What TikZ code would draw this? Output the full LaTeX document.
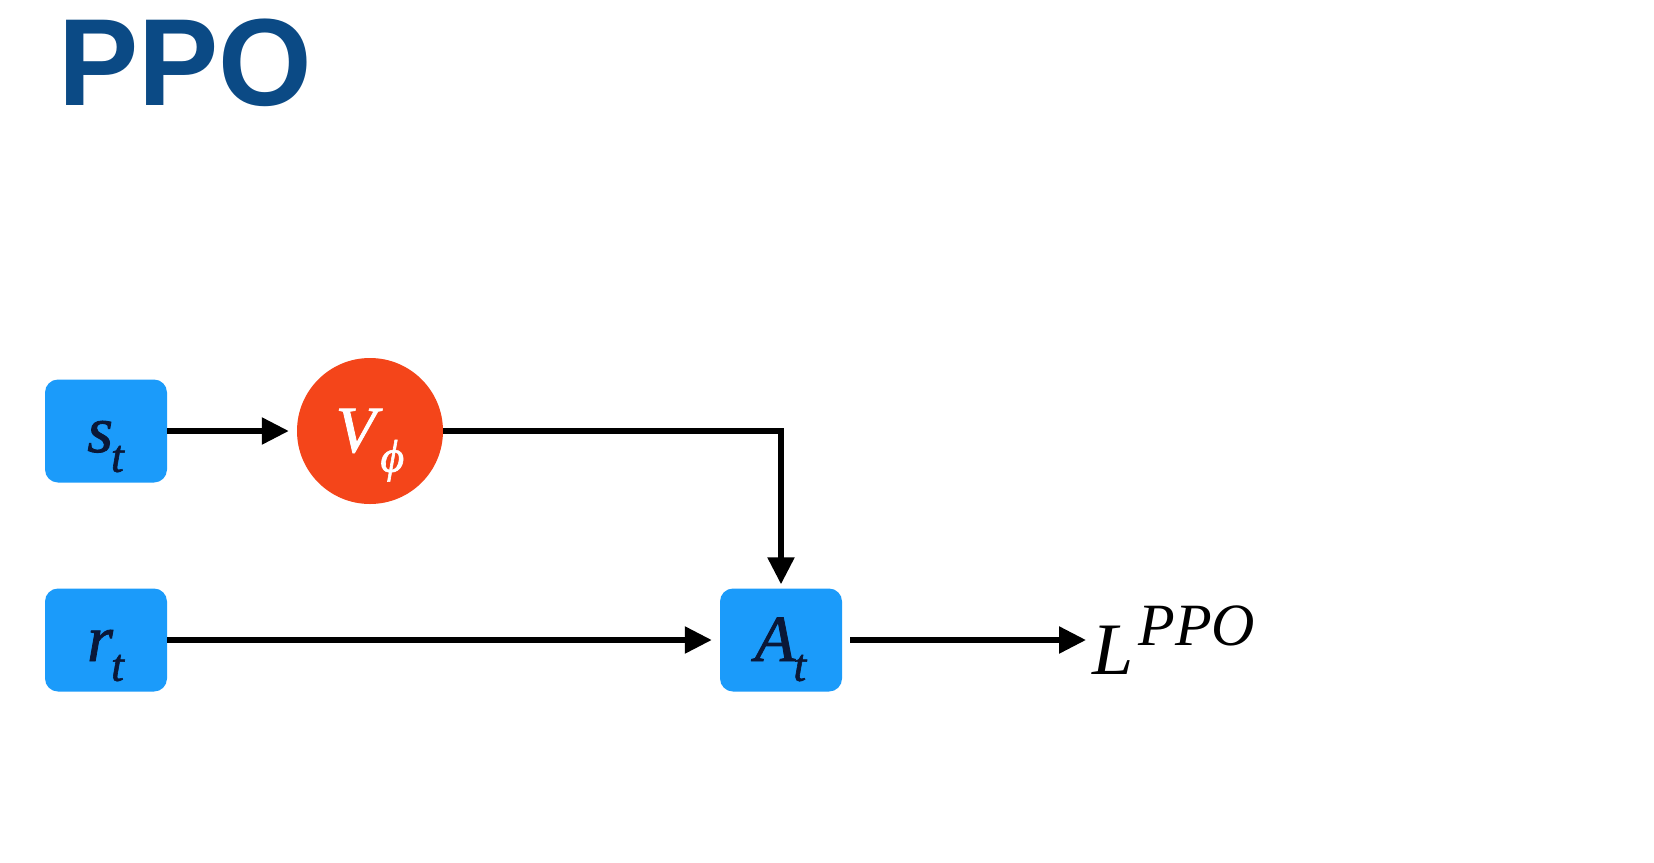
\documentclass[tikz,border=0pt]{standalone}
\usepackage{fontspec}
\setmainfont{Liberation Serif}
\newfontfamily\titlefont{Liberation Sans}
\newfontfamily\nodefont[FakeBold=1.3]{Liberation Serif}
\usetikzlibrary{arrows.meta,calc}
\definecolor{boxblue}{HTML}{1B9BFA}
\definecolor{vred}{HTML}{F4451A}
\definecolor{titleblue}{HTML}{0B4A85}
\definecolor{labelink}{HTML}{0A1838}
\newcommand\bigtxt{\nodefont\fontsize{66}{66}\selectfont}
\newcommand\subtxt{\fontsize{46}{46}\selectfont}
\newcommand\withsub[2]{\textit{#1}\kern-2pt\raisebox{-0.3em}{\subtxt\textit{#2}}}
\tikzset{
  labeltext/.style={text height=50pt, text depth=8pt, font=\bigtxt},
  inbox/.style={fill=boxblue, rounded corners=13pt, minimum width=122pt, minimum height=103pt, inner sep=0pt, labeltext, text=labelink},
  netcirc/.style={circle, fill=vred, minimum size=146pt, inner sep=0pt, labeltext, text=white},
  conn/.style={line width=5.5pt, -{Triangle[length=27pt,width=26pt]}},
}
\begin{document}
\begin{tikzpicture}[x=1pt,y=-1pt]
\useasboundingbox[fill=white] (0,0) rectangle (1654,862);
\node[anchor=base west, inner sep=0pt, text=titleblue, xscale=0.97, font=\titlefont\bfseries\fontsize{124}{124}\selectfont] (title) at (58,105) {PPO};
\node[inbox] (st) at (106,431) {\withsub{s}{t}};
\node[inbox] (rt) at (106,640) {\withsub{r}{t}};
\node[netcirc] (V) at (370,431) {\withsub{V}{ϕ}};
\node[inbox] (At) at (781,640) {\withsub{A}{t}};
\node[anchor=west, inner sep=0pt, font=\fontsize{74}{74}\selectfont] (L) at (1092,640) {\textit{L}\kern5pt\raisebox{0.4em}{\fontsize{60}{60}\selectfont\textit{PPO}}};
\draw[conn, shorten >=8pt] (st.east) -- (V.west);
\draw[conn, shorten >=4pt] (V.east) -| (At.north);
\draw[conn, shorten >=8pt] (rt.east) -- (At.west);
\draw[conn, shorten <=8pt, shorten >=6pt] (At.east) -- (L.west);
\end{tikzpicture}
\end{document}
